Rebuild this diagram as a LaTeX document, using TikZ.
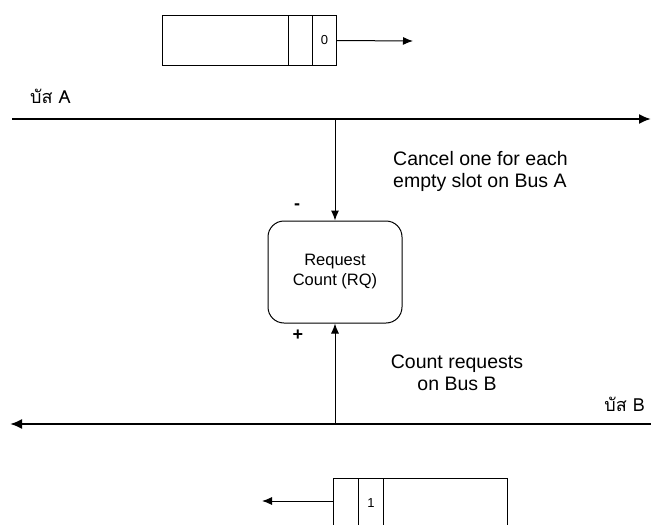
\documentclass[tikz,border=0pt]{standalone}
\usepackage{fontspec}
\setmainfont{Liberation Sans}
\newfontfamily\thaifont[Script=Thai]{Loma}
\usetikzlibrary{arrows.meta}
\begin{document}
\begin{tikzpicture}[x=1pt,y=-1pt,
  bus/.style={line width=2pt,-{Latex[length=12pt,width=10pt]}},
  conn/.style={line width=1pt,-{Latex[length=10pt,width=8pt]}},
  cell/.style={draw,line width=1pt,inner sep=0pt,anchor=north west,font=\fontsize{13}{13}\selectfont},
  thai/.style={font=\thaifont\fontsize{18}{18}\selectfont,inner sep=0pt},
  note/.style={font=\fontsize{19.5}{22}\selectfont,inner sep=0pt},
  sign/.style={font=\bfseries\fontsize{18}{18}\selectfont,inner sep=0pt}]
\useasboundingbox (0,0) rectangle (651,525);
\clip (0,0) rectangle (651,525);
\fill[white] (0,0) rectangle (651,525);
% top slot box
\node[cell,minimum width=126pt,minimum height=50pt] (ta) at (162,15) {};
\node[cell,minimum width=24pt,minimum height=50pt] (tb) at (288,15) {};
\node[cell,minimum width=24pt,minimum height=50pt] (tc) at (312,15) {0};
\coordinate (tend) at (413,41);
\draw[conn] (tc.east) -- (tend);
% bus A
\coordinate (a0) at (12,119);
\coordinate (a1) at (651,119);
\draw[bus] (a0) -- (a1);
\node[thai,anchor=west] (la) at (30,96) {บัส A};
% request counter
\node[draw,line width=1pt,rounded corners=16pt,minimum width=134pt,minimum height=102pt,
  align=center,font=\fontsize{16.5}{20}\selectfont] (rq) at (335,272) {Request\\Count (RQ)};
\coordinate (ja) at (335,119);
\draw[conn] (ja) -- (rq.north);
\coordinate (jb) at (335,424);
\draw[conn] (jb) -- (rq.south);
\node[sign] (minus) at (297,207) {-};
\node[sign] (plus) at (298,335) {+};
\node[note,align=left,anchor=west] (t1) at (393,171) {Cancel one for each\\empty slot on Bus A};
\node[note,align=center] (t2) at (457,373) {Count requests\\on Bus B};
% bus B
\coordinate (b0) at (651,424);
\coordinate (b1) at (10,424);
\draw[bus] (b0) -- (b1);
\node[thai,anchor=east] (lb) at (645,404) {บัส B};
% bottom slot box
\node[cell,minimum width=25pt,minimum height=50pt] (ba) at (333,478) {};
\node[cell,minimum width=25pt,minimum height=50pt] (bb) at (358,478) {1};
\node[cell,minimum width=124pt,minimum height=50pt] (bc) at (383,478) {};
\coordinate (bend) at (262,501);
\draw[conn] (ba.west |- bend) -- (bend);
\end{tikzpicture}
\end{document}
